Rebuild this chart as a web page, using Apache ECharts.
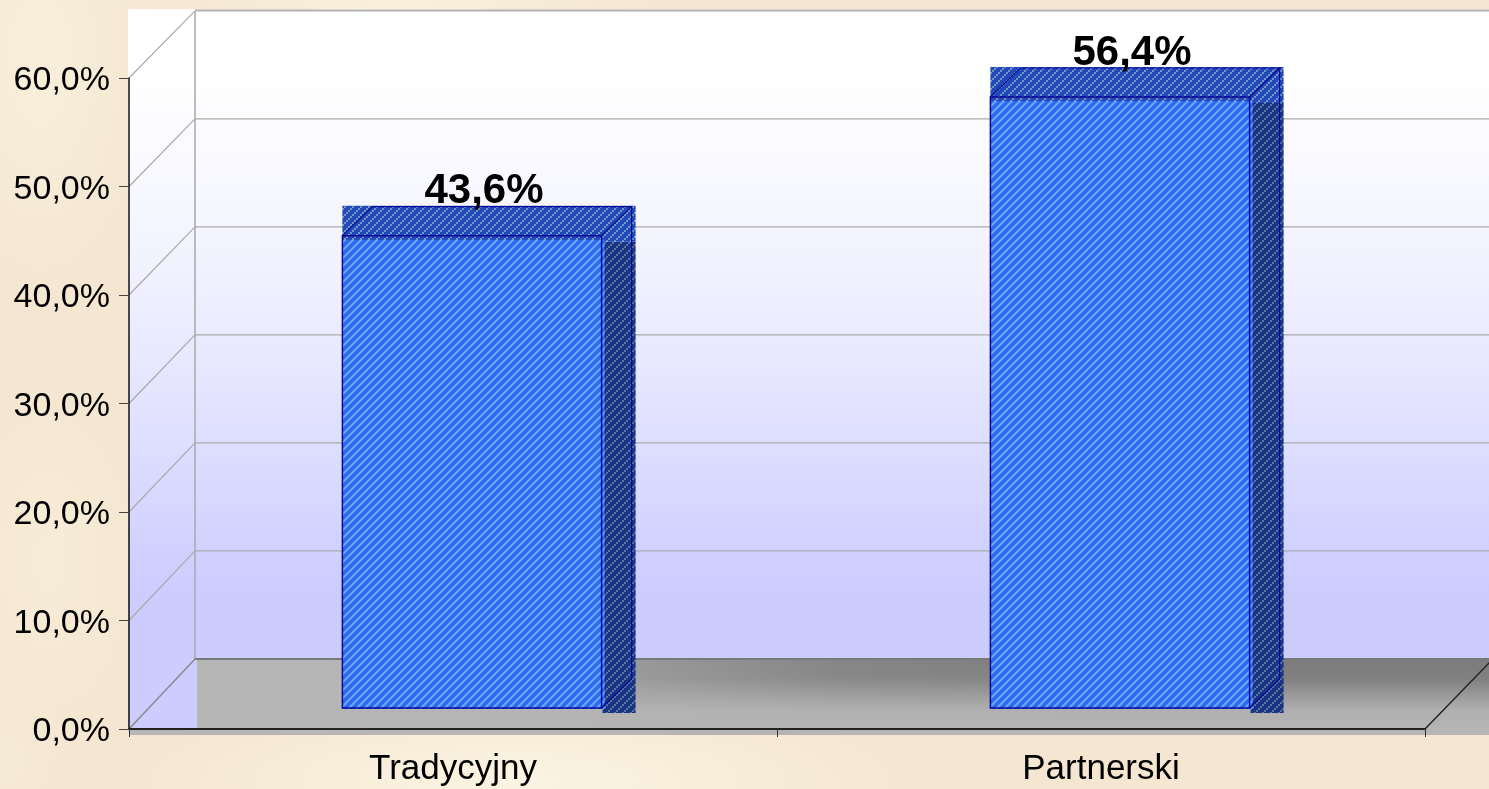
<!DOCTYPE html>
<html><head><meta charset="utf-8">
<style>
html,body{margin:0;padding:0;width:1489px;height:789px;overflow:hidden;background-color:#f4e6d0;
background-image:
 radial-gradient(ellipse 420px 90px at 520px 780px,#fbf4e2 0%,rgba(251,244,226,0) 100%),
 radial-gradient(ellipse 300px 60px at 400px 0px,#f9f0dc 0%,rgba(249,240,220,0) 100%),
 radial-gradient(ellipse 130px 260px at 40px 60px,#f8efdb 0%,rgba(249,241,222,0) 100%),
 radial-gradient(ellipse 110px 200px at 50px 560px,#f7ecd8 0%,rgba(247,236,216,0) 100%),
 radial-gradient(ellipse 80px 80px at 0px 760px,#f6ebd6 0%,rgba(248,240,220,0) 100%);}
#c{width:1489px;height:789px}
</style></head><body><div id="c"></div>
<script src="https://cdn.jsdelivr.net/npm/echarts@6/dist/echarts.min.js"></script>
<script>
const categories = ['Tradycyjny', 'Partnerski'];
const values = [43.6, 56.4];
const tickValues = [0, 10, 20, 30, 40, 50, 60];

const fmt = v => v.toFixed(1).replace('.', ',') + '%';
const FONT = '"Liberation Sans", Arial, sans-serif';

function stripes(colors) {
  const n = colors.length, c = document.createElement('canvas');
  c.width = c.height = n;
  const g = c.getContext('2d');
  for (let x = 0; x < n; x++) for (let y = 0; y < n; y++) {
    g.fillStyle = colors[(x + y) % n]; g.fillRect(x, y, 1, 1);
  }
  return { image: c, repeat: 'repeat' };
}
function checker(base, light) {
  const c = document.createElement('canvas');
  c.width = c.height = 8;
  const g = c.getContext('2d');
  g.fillStyle = base; g.fillRect(0, 0, 8, 8);
  g.fillStyle = light;
  for (let i = 0; i < 4; i++) g.fillRect(i * 2, (3 - i) * 2, 2, 2);
  return { image: c, repeat: 'repeat' };
}
const frontFill = stripes(['#78b0fa','#5c98f8','#3a76f5','#2a68f4','#2a68f4','#2a68f4','#3a76f5','#5c98f8']);
const topFill = checker('#2348bb', '#7098b8');
const sideFill = checker('#1a3385', '#55779a');

// perspective of the back wall relative to the front plane
const DX = 66, BK = 648 / 651, BC = -66.7;
const backY = y => y * BK + BC;

function renderWalls(params, api) {
  const r = params.coordSys;
  const left = r.x, right = r.x + r.width, bottom = r.y + r.height, top = r.y;
  const bl = left + DX, br = 1489 + 4, bb = backY(bottom), bt = backY(top);
  const floorBottom = bottom + 6;
  const wall = { type: 'linear', x: 0, y: 0, x2: 0, y2: 1, colorStops: [
    { offset: 0, color: '#ffffff' }, { offset: 0.09, color: '#ffffff' }, { offset: 0.3, color: '#f5f5ff' },
    { offset: 0.45, color: '#ebebff' }, { offset: 0.6, color: '#dedeff' }, { offset: 0.8, color: '#ccccff' }, { offset: 1, color: '#ccccff' }] };
  const floorV = { type: 'linear', x: 0, y: 0, x2: 0, y2: 1, colorStops: [
    { offset: 0, color: '#7c7c7c' }, { offset: 0.25, color: '#808080' }, { offset: 0.68, color: '#b0b0b0' }, { offset: 1, color: '#b6b6b6' }] };
  const floorH = { type: 'linear', x: 0, y: 0, x2: 1, y2: 0, colorStops: [
    { offset: 0, color: 'rgba(182,182,182,1)' }, { offset: 0.1, color: 'rgba(182,182,182,1)' },
    { offset: 0.5, color: 'rgba(182,182,182,0.15)' }, { offset: 0.75, color: 'rgba(182,182,182,0)' }, { offset: 1, color: 'rgba(182,182,182,0)' }] };
  return { type: 'group', silent: true, children: [
    { type: 'rect', shape: { x: left - 1, y: bt - 2, width: br - left + 1, height: floorBottom - bt }, style: { fill: wall } },
    { type: 'rect', shape: { x: left, y: bottom, width: br - left, height: 6 }, style: { fill: '#b6b6b6' } },
    { type: 'rect', shape: { x: bl + 2, y: bb, width: br - bl, height: floorBottom - bb }, style: { fill: floorV } },
    { type: 'rect', shape: { x: bl + 2, y: bb, width: br - bl, height: floorBottom - bb }, style: { fill: floorH } },
    { type: 'line', shape: { x1: bl, y1: bt - 1, x2: br, y2: bt - 1 }, style: { stroke: '#b0b0b0', lineWidth: 1 } },
    { type: 'line', shape: { x1: bl, y1: bt, x2: bl, y2: bb }, style: { stroke: '#a8a8a8', lineWidth: 1.5 } },
    { type: 'line', shape: { x1: bl, y1: bb, x2: br, y2: bb }, style: { stroke: '#787878', lineWidth: 2 } },
    { type: 'line', shape: { x1: left, y1: bottom, x2: bl, y2: bb }, style: { stroke: '#8a8a8a', lineWidth: 1.5 } },
    { type: 'line', shape: { x1: right, y1: bottom, x2: 1489 + 1, y2: bb + 3 }, style: { stroke: '#222222', lineWidth: 1.5 } }
  ] };
}
function renderGridLine(params, api) {
  const p = api.coord([0, api.value(1)]);
  const r = params.coordSys, y = p[1], by = backY(y);
  if (api.value(1) === 0) return { type: 'group' };
  return { type: 'group', silent: true, children: [
    { type: 'line', shape: { x1: r.x, y1: y, x2: r.x + DX, y2: by }, style: { stroke: '#aaaaaa', lineWidth: 1.2 } },
    { type: 'line', shape: { x1: r.x + DX, y1: by, x2: 1495, y2: by }, style: { stroke: '#aaaaaa', lineWidth: 1.2 } }
  ] };
}
function renderBar(params, api) {
  const c = api.coord([api.value(0), api.value(1)]);
  const base = api.coord([api.value(0), 0]);
  const w = api.size([1, 0])[0] * 0.4;
  const x0 = c[0] - w / 2, x1 = c[0] + w / 2, yT = c[1], yB = base[1];
  const line = { stroke: '#08089a', lineWidth: 1.2, fill: 'none' };
  return { type: 'group', children: [
    { type: 'rect', shape: { x: x1 + 1, y: yT + 6, width: 33, height: yB - yT - 1 }, style: { fill: sideFill } },
    { type: 'rect', shape: { x: x0, y: yT - 30, width: w + 34, height: 36 }, style: { fill: topFill } },
    { type: 'rect', shape: { x: x0, y: yT + 4, width: w + 3, height: yB - yT - 3 }, style: { fill: frontFill } },
    { type: 'polyline', shape: { points: [[x0, yT], [x0 + 30, yT - 29], [x1 + 30, yT - 29], [x1, yT]] }, style: line },
    { type: 'polyline', shape: { points: [[x1, yB], [x1 + 30, yB - 29], [x1 + 30, yT - 29]] }, style: line },
    { type: 'rect', shape: { x: x0, y: yT, width: w, height: yB - yT }, style: { stroke: '#08089a', lineWidth: 1.5, fill: 'none' } },
    { type: 'text', style: { x: c[0] + 12, y: yT - 44, text: fmt(api.value(1)), fill: '#000', fontFamily: FONT, fontWeight: 'bold', fontSize: 42, align: 'center', verticalAlign: 'middle' } }
  ] };
}

const chart = echarts.init(document.getElementById('c'), null, { renderer: 'canvas' });
chart.setOption({
  animation: false,
  backgroundColor: 'transparent',
  grid: [
    { left: 129, right: 64, top: 78, bottom: 60 },
    { left: 148, right: 45, top: 58, bottom: 81 }
  ],
  xAxis: [
    { type: 'category', gridIndex: 0, data: categories, z: 1,
      axisLine: { lineStyle: { color: '#222', width: 2 } },
      axisTick: { show: true, length: 8, alignWithLabel: false, lineStyle: { color: '#333', width: 1 } },
      axisLabel: { color: '#000', fontFamily: FONT, fontSize: 35, margin: 23 } },
    { type: 'category', gridIndex: 1, data: categories, show: false }
  ],
  yAxis: [
    { type: 'value', gridIndex: 0, min: 0, max: 60, interval: 10, z: 1,
      axisLine: { show: true, lineStyle: { color: '#111', width: 1.5 } },
      axisTick: { show: true, length: 10, lineStyle: { color: '#444', width: 1 } },
      splitLine: { show: false },
      axisLabel: { color: '#000', fontFamily: FONT, fontSize: 34, margin: 19, verticalAlign: 'top', lineHeight: 6, formatter: v => fmt(v) } },
    { type: 'value', gridIndex: 1, min: 0, max: 60, interval: 10, show: false, splitLine: { show: false } }
  ],
  series: [
    { type: 'custom', xAxisIndex: 0, yAxisIndex: 0, z: -3, clip: false, silent: true, renderItem: renderWalls, data: [[0, 0]] },
    { type: 'custom', xAxisIndex: 0, yAxisIndex: 0, z: -2, clip: false, silent: true, renderItem: renderGridLine, data: tickValues.map(v => [0, v]) },
    { type: 'custom', xAxisIndex: 1, yAxisIndex: 1, z: 5, clip: false, renderItem: renderBar, data: values.map((v, i) => [i, v]) }
  ]
});
</script></body></html>
